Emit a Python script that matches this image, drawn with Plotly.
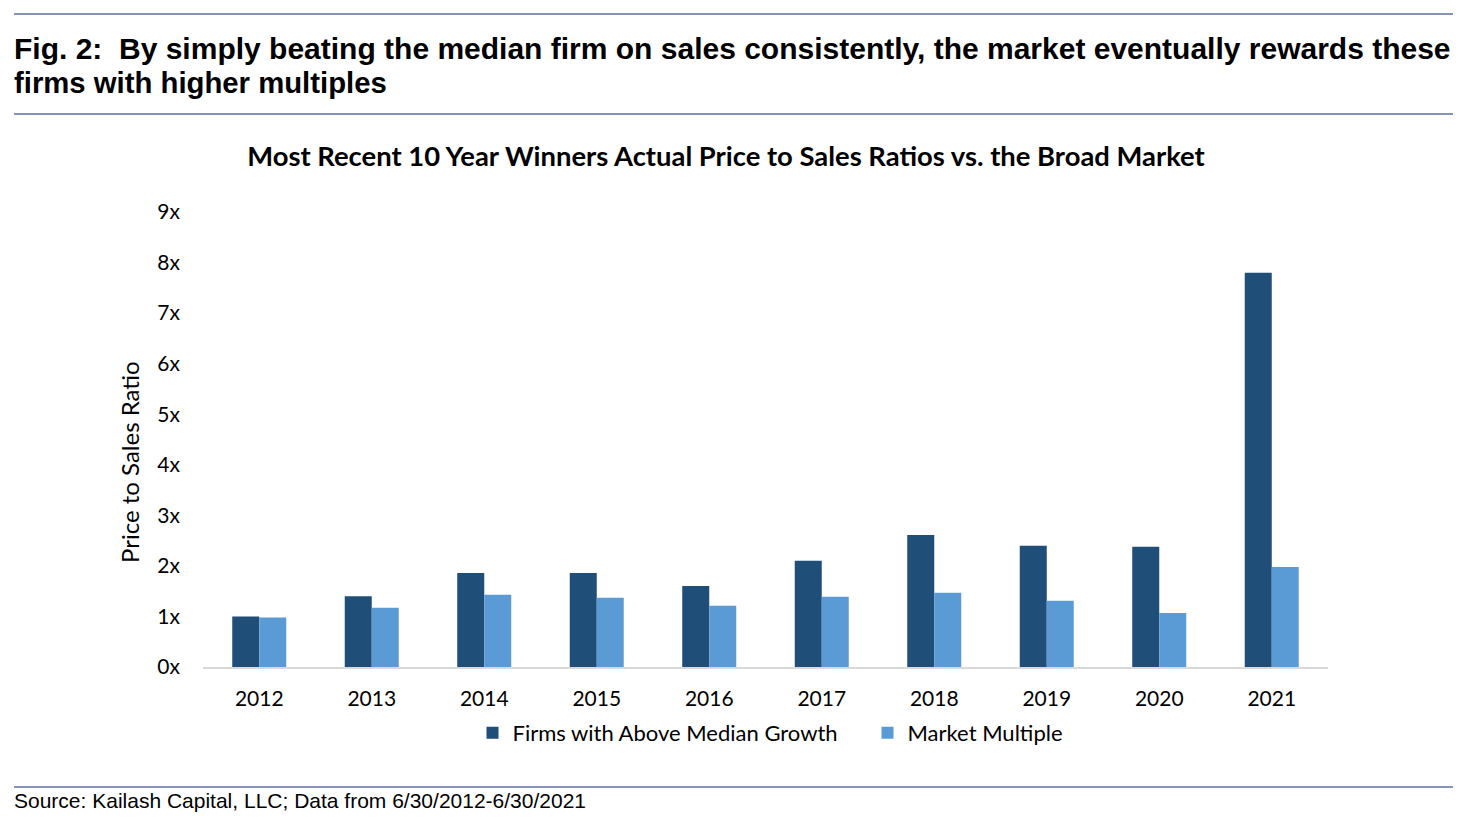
import plotly.graph_objects as go

years = ["2012", "2013", "2014", "2015", "2016", "2017", "2018", "2019", "2020", "2021"]
above_median = [1.00, 1.40, 1.86, 1.86, 1.60, 2.10, 2.61, 2.40, 2.38, 7.80]
market_multiple = [0.98, 1.17, 1.43, 1.37, 1.21, 1.39, 1.47, 1.31, 1.07, 1.98]
y_ticks = [0, 1, 2, 3, 4, 5, 6, 7, 8, 9]
y_tick_labels = [f"{v}x" for v in y_ticks]

chart_font = "Lato, 'Open Sans', sans-serif"
header_font = "'Liberation Sans', Arial, sans-serif"

# plot area in figure pixels (page adds an 8px body margin)
L, R, T, B = 195, 1320, 204, 659
W, H = R - L, B - T


def px(x):
    return (x - L) / W


def py(y):
    return (B - y) / H


fig = go.Figure()
fig.add_trace(go.Bar(x=years, y=above_median, name="Firms with Above Median Growth",
                     marker=dict(color="#1F4E79", line=dict(width=0))))
fig.add_trace(go.Bar(x=years, y=market_multiple, name="Market Multiple",
                     marker=dict(color="#5B9BD5", line=dict(width=0))))

fig.update_layout(
    width=1470, height=826,
    margin=dict(l=L, r=1470 - R, t=T, b=826 - B),
    paper_bgcolor="white", plot_bgcolor="white",
    barmode="group", bargap=0.52, bargroupgap=0,
    font=dict(family=chart_font, size=21, color="#000000"),
    showlegend=True,
    legend=dict(orientation="h", x=0.5 + 102 / W, xanchor="center", y=py(704), yanchor="top",
                font=dict(size=22), itemwidth=30, entrywidth=350, traceorder="normal"),
    title=dict(text="<b>Most Recent 10 Year Winners Actual Price to Sales Ratios vs. the Broad Market</b>",
               x=718 / 1470, xanchor="center", y=1 - 148 / 826, yanchor="middle",
               font=dict(family=chart_font, size=27.4, color="#000000")),
)

fig.update_xaxes(showgrid=False, showline=True, linecolor="#D9D9D9", linewidth=2,
                 ticks="", tickfont=dict(size=21), ticklabelstandoff=12)
fig.update_yaxes(range=[0, 9], tickvals=y_ticks, ticktext=y_tick_labels,
                 showgrid=False, zeroline=False, showline=False, ticks="",
                 tickfont=dict(size=21), ticklabelstandoff=22)

fig.add_annotation(text="Price to Sales Ratio", textangle=-90,
                   xref="paper", yref="paper", x=px(121), y=py(454),
                   xanchor="center", yanchor="middle", showarrow=False,
                   font=dict(family=chart_font, size=24, color="#000000"))

rule = "#5B6F9E"
for y in [6, 106, 779]:
    fig.add_shape(type="line", xref="paper", yref="paper",
                  x0=px(6), x1=px(1445), y0=py(y), y1=py(y),
                  line=dict(color=rule, width=1.3))

fig.add_annotation(
    text="<b>Fig. 2:  By simply beating the median firm on sales consistently, the market eventually rewards these</b>",
    xref="paper", yref="paper", x=px(4), y=py(41),
    xanchor="left", yanchor="middle", showarrow=False,
    font=dict(family=header_font, size=30, color="#000000"))
fig.add_annotation(
    text="<b>firms with higher multiples</b>",
    xref="paper", yref="paper", x=px(4), y=py(75),
    xanchor="left", yanchor="middle", showarrow=False,
    font=dict(family=header_font, size=29.3, color="#000000"))
fig.add_annotation(
    text="Source: Kailash Capital, LLC; Data from 6/30/2012-6/30/2021",
    xref="paper", yref="paper", x=px(4), y=py(792),
    xanchor="left", yanchor="middle", showarrow=False,
    font=dict(family=header_font, size=21, color="#000000"))

fig.write_html("out.html")
